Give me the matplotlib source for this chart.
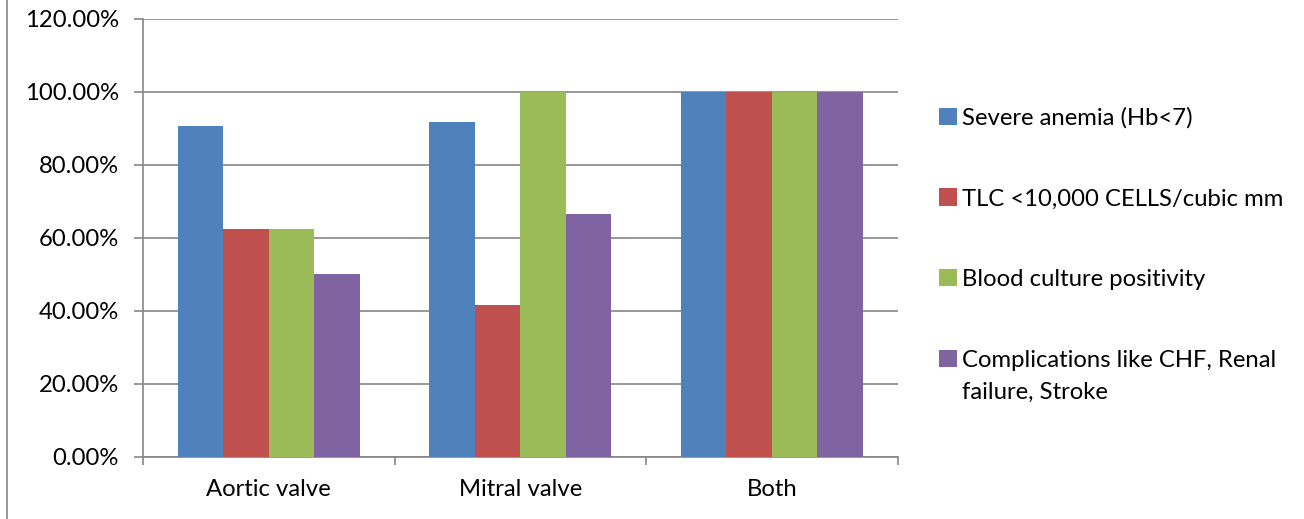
import matplotlib
matplotlib.use("Agg")
import matplotlib.pyplot as plt
import numpy as np
from matplotlib.lines import Line2D
from matplotlib.transforms import IdentityTransform
from matplotlib.ticker import FuncFormatter

plt.rcParams['font.family'] = ['Lato', 'DejaVu Sans']

categories = ["Aortic valve", "Mitral valve", "Both"]
series_names = ["Severe anemia (Hb<7)",
                "TLC <10,000 CELLS/cubic mm",
                "Blood culture positivity",
                "Complications like CHF, Renal"]
last_label_cont = "failure, Stroke"
anemia = [90.6, 91.7, 100.0]
tlc = [62.5, 41.7, 100.0]
culture = [62.5, 100.0, 100.0]
complications = [50.0, 66.7, 100.0]
colors = ['#4F81BD', '#C0504D', '#9BBB59', '#8064A2']

fs = 17.2

fig = plt.figure(figsize=(13.04, 5.19), dpi=100)
ax = fig.add_axes([0.1097, 0.1195, 0.5787, 0.8439])

x = np.arange(len(categories))
w = 0.181
values = [anemia, tlc, culture, complications]
handles = []
for i, vals in enumerate(values):
    b = ax.bar(x + (i - 1.5) * w, vals, w, color=colors[i], label=series_names[i], zorder=3)
    handles.append(b)

ax.set_xlim(-0.5, 2.5)
ax.set_ylim(0, 120)
ax.set_yticks(np.arange(0, 121, 20))
ax.yaxis.set_major_formatter(FuncFormatter(lambda v, p: "{:.2f}%".format(v)))
ax.set_xticks(x)
ax.set_xticklabels(categories)
ax.set_xticks([-0.5, 0.5, 1.5, 2.5], minor=True)
ax.tick_params(axis='x', which='major', length=0, pad=16, labelsize=fs)
ax.tick_params(axis='x', which='minor', length=6, color='#868686', width=1.2)
ax.tick_params(axis='y', length=6.5, color='#868686', width=1.2, pad=11, labelsize=fs)
ax.yaxis.grid(True, color='#868686', linewidth=1.2, zorder=0)
ax.set_axisbelow(True)
for s in ['top', 'right']:
    ax.spines[s].set_visible(False)
for s in ['left', 'bottom']:
    ax.spines[s].set_color('#868686')
    ax.spines[s].set_linewidth(1.2)

leg = fig.legend(handles=handles, loc='upper left', bbox_to_anchor=(0.713, 0.812),
                 frameon=False, fontsize=fs, handlelength=0.72, handleheight=0.72,
                 handletextpad=0.22, labelspacing=2.5, borderaxespad=0)

# second line of the last legend entry, placed under the first line
fig.canvas.draw()
bb = leg.get_texts()[-1].get_window_extent()
fig.text(bb.x0, bb.y0 - 32, last_label_cont, transform=IdentityTransform(),
         fontsize=fs, va='bottom', ha='left')

fig.add_artist(Line2D([0.0055, 0.0055], [0, 1], transform=fig.transFigure,
                      color='#868686', linewidth=1.2))

fig.savefig("out.png", dpi=100)
